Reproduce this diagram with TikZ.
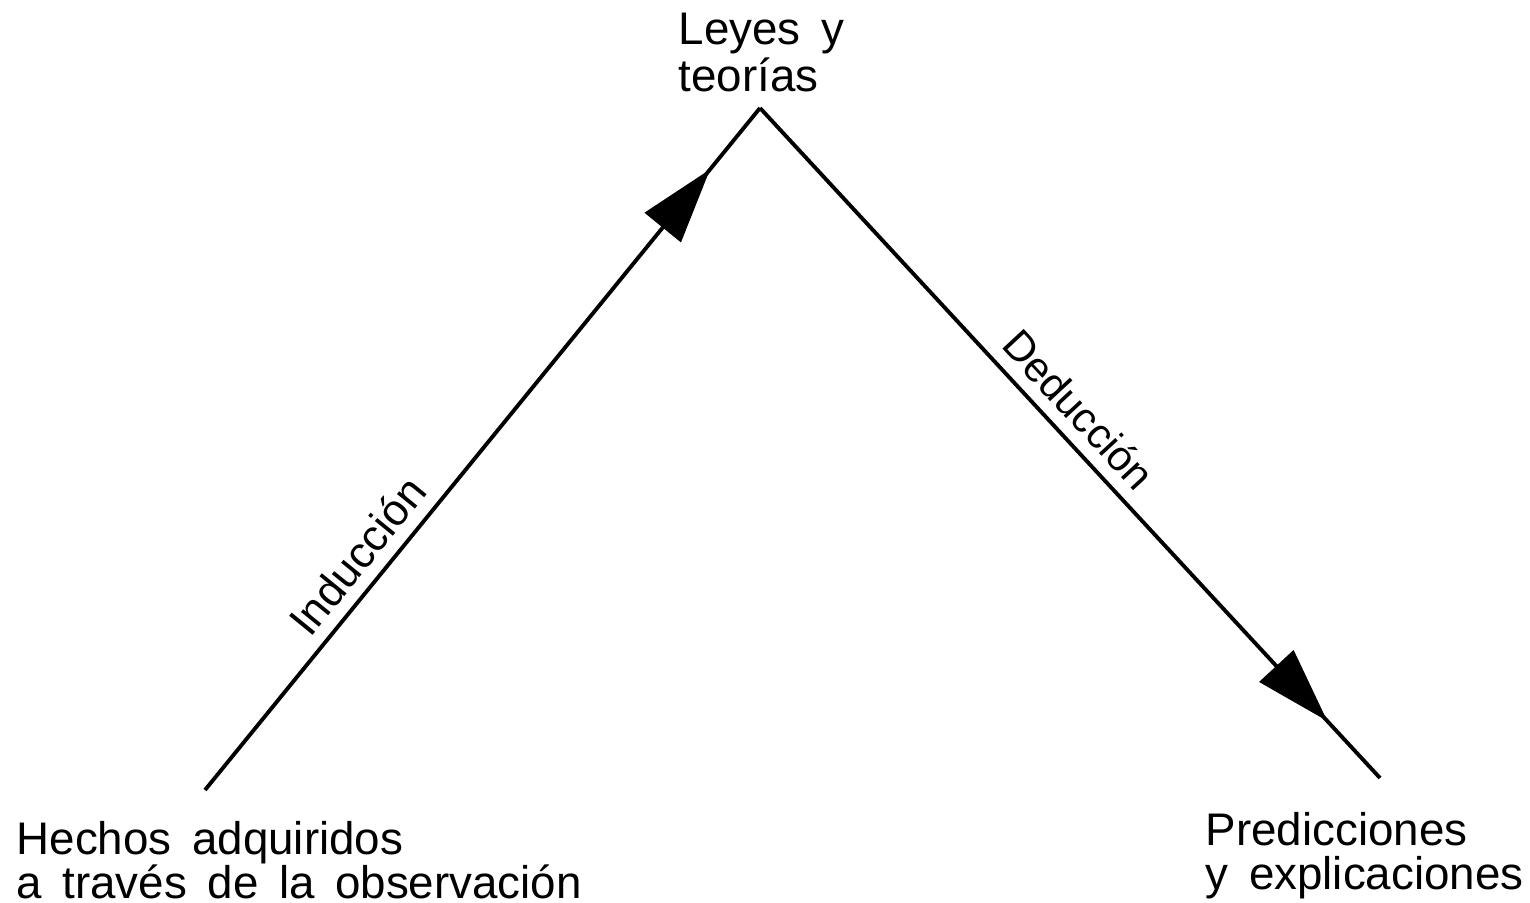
\documentclass[tikz,border=0pt]{standalone}
\usepackage{fontspec}
\setmainfont{Liberation Sans}
\usetikzlibrary{arrows.meta,decorations.markings}
\newcommand\anchos{\spaceskip=0.45em\relax}
\tikzset{
    rotulo/.style={font=\fontsize{13}{12.4}\selectfont, execute at begin node=\anchos, inner sep=0pt, anchor=north west, align=left},
    flecha/.style={line width=1.1pt, postaction={decorate},
        decoration={markings, mark=at position #1 with {\arrow{Triangle[length=7.5mm,width=4.6mm]}}}}
}
\begin{document}
\begin{tikzpicture}[x=0.01cm,y=-0.01cm]
    \useasboundingbox (0,0) rectangle (1530,903);
    % puntos
    \coordinate (base) at (205,790);
    \coordinate (cima) at (760,108);
    \coordinate (fin) at (1380,778);
    % textos
    \node [rotulo, font=\fontsize{13}{13.4}\selectfont] (leyes) at (678,12) {Leyes y\\teorías};
    \node [rotulo] (hechos) at (16,821) {Hechos adquiridos\\a través de la observación};
    \node [rotulo] (predic) at (1205,812) {Predicciones\\y explicaciones};
    % flechas
    \draw [flecha=0.91] (base) -- (cima) node [pos=0.316, above, sloped, font=\fontsize{12.5}{14}\selectfont] (induc) {Inducción};
    \draw [flecha=0.915] (cima) -- (fin) node [pos=0.48, above, sloped, font=\fontsize{12}{14}\selectfont] (deduc) {Deducción};
\end{tikzpicture}
\end{document}
